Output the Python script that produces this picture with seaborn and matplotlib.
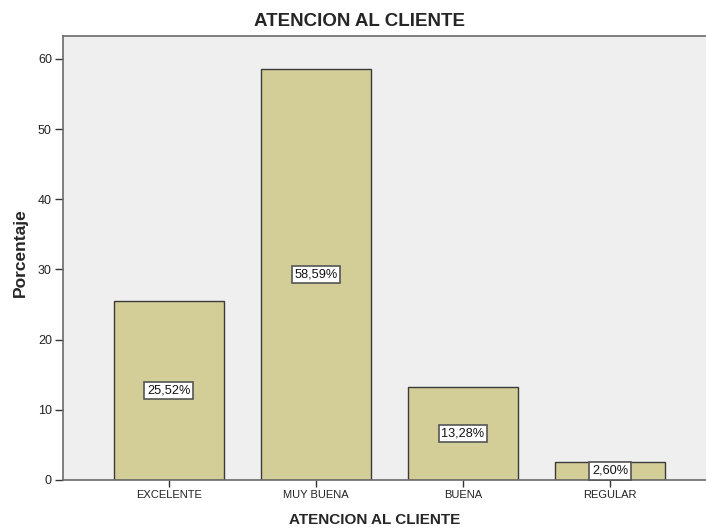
import seaborn as sns
import matplotlib.pyplot as plt
import pandas as pd

categorias = ["EXCELENTE", "MUY BUENA", "BUENA", "REGULAR"]
porcentajes = [25.52, 58.59, 13.28, 2.60]
etiquetas = ["25,52%", "58,59%", "13,28%", "2,60%"]

df = pd.DataFrame({"categoria": categorias, "porcentaje": porcentajes})

sns.set_style("white")
plt.rcParams["font.family"] = ["Liberation Sans", "DejaVu Sans"]

fig = plt.figure(figsize=(7.06, 5.29), dpi=100)
# el área de gráfico se sale por la derecha, como en el original
ax = fig.add_axes([63 / 706, 1 - 480 / 529, 653 / 706, 444 / 529])
ax.set_facecolor("#efefef")

sns.barplot(data=df, x="categoria", y="porcentaje", color="#d3ce97",
            saturation=1, width=0.748, edgecolor="#3a3a3a", linewidth=1, ax=ax)

for i, (v, txt) in enumerate(zip(porcentajes, etiquetas)):
    ax.text(i, v / 2, txt, ha="center", va="center", fontsize=9.2, color="#111111",
            bbox=dict(boxstyle="square,pad=0.22", fc="white", ec="#555555", lw=1.2))

ax.set_xlim(-0.72, 3.72)
ax.set_ylim(0, 63.25)
ax.set_yticks([0, 10, 20, 30, 40, 50, 60])

for s in ["left", "bottom", "top"]:
    ax.spines[s].set_color("#6a6a6a")
    ax.spines[s].set_linewidth(1.2)
ax.spines["right"].set_visible(False)

ax.tick_params(axis="both", which="both", bottom=True, left=True, width=1,
               color="#333333", labelcolor="#222222", pad=2, direction="out")
ax.tick_params(axis="x", length=5, labelsize=8)
ax.tick_params(axis="y", length=6, labelsize=9)

ax.set_xlabel("")
ax.set_ylabel("")
fig.text(360 / 706, 1 - 22 / 529, "ATENCION AL CLIENTE", ha="center", va="center",
         fontsize=13.5, fontweight="bold")
fig.text(375 / 706, 1 - 520 / 529, "ATENCION AL CLIENTE", ha="center", va="center",
         fontsize=11, fontweight="bold")
fig.text(20 / 706, 1 - 253 / 529, "Porcentaje", ha="center", va="center",
         rotation=90, fontsize=12.5, fontweight="bold")

fig.savefig("out.png", dpi=100)
